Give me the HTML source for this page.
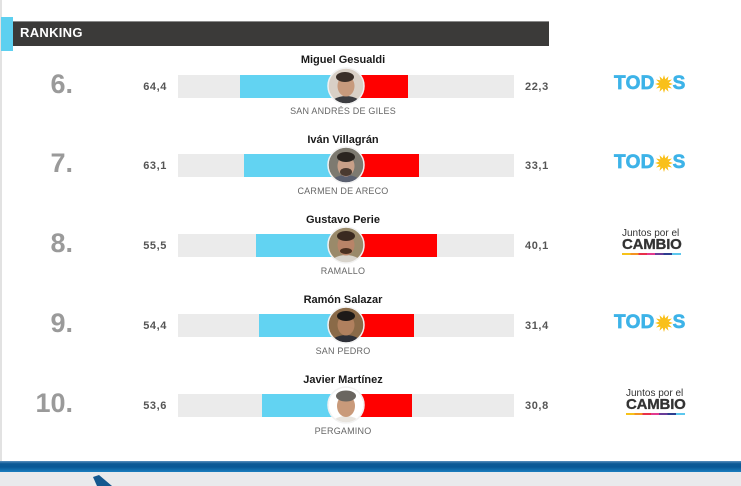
<!DOCTYPE html>
<html>
<head>
<meta charset="utf-8">
<style>
  html,body{margin:0;padding:0;}
  body{width:741px;height:486px;position:relative;overflow:hidden;background:#fff;font-family:"Liberation Sans",sans-serif;}
  .abs{position:absolute;}
  .grey{position:absolute;left:178px;width:336px;height:23px;background:#ebebeb;}
  .blue{position:absolute;height:23px;background:#62d3f2;}
  .red{position:absolute;left:346px;height:23px;background:#ff0000;}
  .rank{position:absolute;left:0;width:73px;text-align:right;font-size:27px;font-weight:bold;color:#9a9a9a;line-height:30px;height:30px;}
  .lv{position:absolute;left:120px;width:47px;text-align:right;font-size:11px;font-weight:bold;color:#555;letter-spacing:0.6px;line-height:14px;height:14px;}
  .rv{position:absolute;left:525px;width:60px;text-align:left;font-size:11px;font-weight:bold;color:#555;letter-spacing:0.6px;line-height:14px;height:14px;}
  .name{position:absolute;left:243px;width:200px;text-align:center;font-size:11px;font-weight:bold;color:#1a1a1a;line-height:14px;height:14px;}
  .town{position:absolute;left:243px;width:200px;text-align:center;font-size:9px;color:#666;letter-spacing:0.2px;line-height:12px;height:12px;}
  .photo{position:absolute;left:327px;width:38px;height:38px;}
  .todos{position:absolute;left:614px;height:20px;font-size:19px;font-weight:bold;color:#3db3e8;line-height:20px;white-space:nowrap;-webkit-text-stroke:0.7px #3db3e8;letter-spacing:0.3px;}
  .todos span{display:inline-block;vertical-align:top;}
  .jpc1{position:absolute;font-size:10px;color:#333;line-height:11px;height:11px;white-space:nowrap;}
  .jpc2{position:absolute;font-size:15px;font-weight:bold;color:#333;line-height:14px;height:14px;white-space:nowrap;letter-spacing:-0.2px;-webkit-text-stroke:0.3px #333;}
  .stripe{position:absolute;height:2px;width:59px;background:linear-gradient(to right,#f7c21a 0,#f7c21a 14%,#f39322 14%,#f39322 28%,#e8304a 28%,#e8304a 42%,#e33a8f 42%,#e33a8f 56%,#6a3d98 56%,#6a3d98 70%,#2c3e8f 70%,#2c3e8f 85%,#5cc7ee 85%);}
</style>
</head>
<body>
<div class="abs" style="left:0;top:0;width:2px;height:461px;background:#e2e2e2;"></div>

<div class="abs" style="left:13px;top:21px;width:536px;height:25px;background:#3b3a39;border-top:1px solid #8a8a8a;box-sizing:border-box;"></div>
<div class="abs" style="left:1px;top:17px;width:12px;height:34px;background:#5dd0f0;"></div>
<div class="abs" style="left:20px;top:25px;font-size:13px;font-weight:bold;color:#fff;line-height:16px;letter-spacing:0.3px;">RANKING</div>

<!-- Row 6 -->
<div class="rank" style="top:69px;">6.</div>
<div class="lv" style="top:80px;">64,4</div>
<div class="grey" style="top:75px;"></div>
<div class="blue" style="top:75px;left:240px;width:106px;"></div>
<div class="red" style="top:75px;width:62px;"></div>
<div class="rv" style="top:80px;">22,3</div>
<div class="name" style="top:53px;">Miguel Gesualdi</div>
<div class="town" style="top:105px;">SAN ANDRÉS DE GILES</div>
<svg class="photo" style="top:67px;" viewBox="0 0 38 38"><defs><clipPath id="c1"><circle cx="19" cy="19" r="17.5"/></clipPath></defs><g clip-path="url(#c1)"><rect width="38" height="38" fill="#d9d0c6"/><ellipse cx="19" cy="40" rx="17" ry="11" fill="#3b3c40"/><ellipse cx="19" cy="19" rx="8.5" ry="10.5" fill="#c79a7c"/><ellipse cx="18" cy="10" rx="9" ry="5" fill="#3a2f28"/></g><circle cx="19" cy="19" r="18" fill="none" stroke="#f2f2f2" stroke-width="1.5"/></svg>
<div class="todos" style="top:74px;"><span>TOD</span><svg style="display:inline-block;vertical-align:top;margin-top:1px" width="18" height="18" viewBox="0 0 18 18"><polygon fill="#f9c01a" points="9,0 10.3,4.2 13.5,1.2 12.6,5.4 17,4.5 13.8,7.6 18,9 13.8,10.4 17,13.5 12.6,12.6 13.5,16.8 10.3,13.8 9,18 7.7,13.8 4.5,16.8 5.4,12.6 1,13.5 4.2,10.4 0,9 4.2,7.6 1,4.5 5.4,5.4 4.5,1.2 7.7,4.2"/></svg><span>S</span></div>

<!-- Row 7 -->
<div class="rank" style="top:148px;">7.</div>
<div class="lv" style="top:159px;">63,1</div>
<div class="grey" style="top:154px;"></div>
<div class="blue" style="top:154px;left:244px;width:102px;"></div>
<div class="red" style="top:154px;width:73px;"></div>
<div class="rv" style="top:159px;">33,1</div>
<div class="name" style="top:133px;">Iván Villagrán</div>
<div class="town" style="top:185px;">CARMEN DE ARECO</div>
<svg class="photo" style="top:146px;" viewBox="0 0 38 38"><defs><clipPath id="c2"><circle cx="19" cy="19" r="17.5"/></clipPath></defs><g clip-path="url(#c2)"><rect width="38" height="38" fill="#7d7a70"/><ellipse cx="19" cy="40" rx="17" ry="11" fill="#5a6070"/><ellipse cx="19" cy="20" rx="8.5" ry="10.5" fill="#c8a088"/><ellipse cx="19" cy="11" rx="9" ry="5" fill="#2a2520"/><ellipse cx="19" cy="26" rx="6" ry="4" fill="#4a3a30"/></g><circle cx="19" cy="19" r="18" fill="none" stroke="#f2f2f2" stroke-width="1.5"/></svg>
<div class="todos" style="top:153px;"><span>TOD</span><svg style="display:inline-block;vertical-align:top;margin-top:1px" width="18" height="18" viewBox="0 0 18 18"><polygon fill="#f9c01a" points="9,0 10.3,4.2 13.5,1.2 12.6,5.4 17,4.5 13.8,7.6 18,9 13.8,10.4 17,13.5 12.6,12.6 13.5,16.8 10.3,13.8 9,18 7.7,13.8 4.5,16.8 5.4,12.6 1,13.5 4.2,10.4 0,9 4.2,7.6 1,4.5 5.4,5.4 4.5,1.2 7.7,4.2"/></svg><span>S</span></div>

<!-- Row 8 -->
<div class="rank" style="top:228px;">8.</div>
<div class="lv" style="top:239px;">55,5</div>
<div class="grey" style="top:234px;"></div>
<div class="blue" style="top:234px;left:256px;width:90px;"></div>
<div class="red" style="top:234px;width:91px;"></div>
<div class="rv" style="top:239px;">40,1</div>
<div class="name" style="top:213px;">Gustavo Perie</div>
<div class="town" style="top:265px;">RAMALLO</div>
<svg class="photo" style="top:226px;" viewBox="0 0 38 38"><defs><clipPath id="c3"><circle cx="19" cy="19" r="17.5"/></clipPath></defs><g clip-path="url(#c3)"><rect width="38" height="38" fill="#9a8a6a"/><ellipse cx="19" cy="40" rx="17" ry="11" fill="#d8d4cc"/><ellipse cx="19" cy="19" rx="8.5" ry="10.5" fill="#b88468"/><ellipse cx="19" cy="10" rx="9" ry="5" fill="#3a2a20"/><ellipse cx="19" cy="25" rx="6" ry="3" fill="#4a3020"/></g><circle cx="19" cy="19" r="18" fill="none" stroke="#f2f2f2" stroke-width="1.5"/></svg>
<div class="jpc1" style="left:622px;top:228px;">Juntos por el</div>
<div class="jpc2" style="left:622px;top:238px;">CAMBIO</div>
<div class="stripe" style="left:622px;top:253px;"></div>

<!-- Row 9 -->
<div class="rank" style="top:308px;">9.</div>
<div class="lv" style="top:319px;">54,4</div>
<div class="grey" style="top:314px;"></div>
<div class="blue" style="top:314px;left:259px;width:87px;"></div>
<div class="red" style="top:314px;width:68px;"></div>
<div class="rv" style="top:319px;">31,4</div>
<div class="name" style="top:293px;">Ramón Salazar</div>
<div class="town" style="top:345px;">SAN PEDRO</div>
<svg class="photo" style="top:306px;" viewBox="0 0 38 38"><defs><clipPath id="c4"><circle cx="19" cy="19" r="17.5"/></clipPath></defs><g clip-path="url(#c4)"><rect width="38" height="38" fill="#8a6a48"/><ellipse cx="19" cy="40" rx="17" ry="11" fill="#2e3038"/><ellipse cx="19" cy="19" rx="8.5" ry="10.5" fill="#b0805e"/><ellipse cx="19" cy="10" rx="9" ry="5" fill="#1e1a18"/></g><circle cx="19" cy="19" r="18" fill="none" stroke="#f2f2f2" stroke-width="1.5"/></svg>
<div class="todos" style="top:313px;"><span>TOD</span><svg style="display:inline-block;vertical-align:top;margin-top:1px" width="18" height="18" viewBox="0 0 18 18"><polygon fill="#f9c01a" points="9,0 10.3,4.2 13.5,1.2 12.6,5.4 17,4.5 13.8,7.6 18,9 13.8,10.4 17,13.5 12.6,12.6 13.5,16.8 10.3,13.8 9,18 7.7,13.8 4.5,16.8 5.4,12.6 1,13.5 4.2,10.4 0,9 4.2,7.6 1,4.5 5.4,5.4 4.5,1.2 7.7,4.2"/></svg><span>S</span></div>

<!-- Row 10 -->
<div class="rank" style="top:388px;">10.</div>
<div class="lv" style="top:399px;">53,6</div>
<div class="grey" style="top:394px;"></div>
<div class="blue" style="top:394px;left:262px;width:84px;"></div>
<div class="red" style="top:394px;width:66px;"></div>
<div class="rv" style="top:399px;">30,8</div>
<div class="name" style="top:373px;">Javier Martínez</div>
<div class="town" style="top:425px;">PERGAMINO</div>
<svg class="photo" style="top:386px;" viewBox="0 0 38 38"><defs><clipPath id="c5"><circle cx="19" cy="19" r="17.5"/></clipPath></defs><g clip-path="url(#c5)"><rect width="38" height="38" fill="#ffffff"/><ellipse cx="19" cy="40" rx="15" ry="10" fill="#e8e4de"/><ellipse cx="19" cy="20" rx="9" ry="11" fill="#c99a7a"/><ellipse cx="19" cy="10" rx="10" ry="5.5" fill="#6a6660"/></g><circle cx="19" cy="19" r="18" fill="none" stroke="#f2f2f2" stroke-width="1.5"/></svg>
<div class="jpc1" style="left:626px;top:388px;">Juntos por el</div>
<div class="jpc2" style="left:626px;top:398px;">CAMBIO</div>
<div class="stripe" style="left:626px;top:413px;"></div>

<!-- bottom band -->
<div class="abs" style="left:0;top:461px;width:741px;height:11px;background:linear-gradient(to bottom,#5a8fbd 0,#0d5a96 25%,#0a5896 55%,#1b7fbf 100%);"></div>
<div class="abs" style="left:0;top:472px;width:741px;height:14px;background:#e9eaec;"></div>
<svg class="abs" style="left:0;top:472px;" width="741" height="14" viewBox="0 0 741 14"><polygon points="93,5 99,3 112,14 97,14" fill="#14588f"/></svg>
</body>
</html>
